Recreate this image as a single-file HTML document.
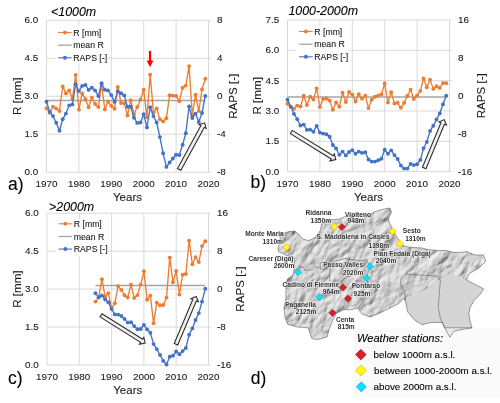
<!DOCTYPE html>
<html><head><meta charset="utf-8"><style>
html,body{margin:0;padding:0;background:#fff;}
svg{display:block;font-family:"Liberation Sans",sans-serif;will-change:transform;opacity:0.999;}
</style></head><body>
<svg width="500" height="403" viewBox="0 0 500 403">
<rect width="500" height="403" fill="#fff"/>
<rect x="354" y="329" width="146" height="69" fill="#FAFAFA"/>
<defs>
<filter id="relief" x="-400" y="-400" width="1200" height="1200" filterUnits="userSpaceOnUse">
<feTurbulence type="turbulence" baseFrequency="0.04 0.07" numOctaves="5" seed="11" result="n1"/>
<feTurbulence type="fractalNoise" baseFrequency="0.15 0.22" numOctaves="3" seed="4" result="n2"/>
<feComposite in="n1" in2="n2" operator="arithmetic" k1="0" k2="0.7" k3="0.3" k4="0" result="n"/>
<feDiffuseLighting in="n" surfaceScale="2.6" lighting-color="#ffffff" diffuseConstant="1" result="l">
<feDistantLight azimuth="280" elevation="45"/>
</feDiffuseLighting>
<feComponentTransfer><feFuncR type="linear" slope="1" intercept="-0.08"/><feFuncG type="linear" slope="1" intercept="-0.08"/><feFuncB type="linear" slope="1" intercept="-0.08"/></feComponentTransfer>
</filter>
<clipPath id="mapclip"><polygon points="278.7,236 283,233.5 289,231.5 294.8,231 299,234.5 303.2,239 308,240.5 311.6,239.5 317.2,235.5 320.5,230 321.5,224 326,221 330,220 336,219.5 340,219 346,216 352,215 358,214 364,215 370,215 374,212 379,210.5 384,209 390,208 391.5,212 388.5,218 389,222 391,226 394.8,234 399.6,240.8 402.8,245.6 408,247 414,247.5 422,248 428.4,249.6 438,250.5 446,250.5 454,252.5 462,252.2 467,251.5 474.4,254.9 483.6,255 485.7,261.3 479.4,267.7 468.8,274 466.7,280.3 475.2,284.5 483.6,288.8 480.4,294 474.1,300.4 469.9,307.7 468.8,314.1 469.9,320.4 472,327.8 464.6,329 454,331 449.9,337.3 444.6,327.8 442.5,322.5 430.9,322.5 422.4,324.6 415,320.4 407.7,312 405.5,301.4 404,298 398,304 388,309 380,313 370,317 362,314 357.7,308 350.5,309.8 343.3,309.8 336.2,313.4 332.6,320.6 329,329.6 327.2,336.8 318.2,339.5 311.9,338.6 310,333.2 308.3,327.8 296.6,326.9 287.6,324.2 284.9,317 284,308 285.8,299 286,290 286.4,282.4 287.6,278.8 292.4,275.8 294,271 294.2,262 294,258 285.2,255 282.8,253.4 278.8,251.8 278,248.6 279.2,243.8 280.4,237.4"/></clipPath>
</defs>
<g clip-path="url(#mapclip)"><g transform="translate(380,280) rotate(-55)"><rect x="-160" y="-160" width="320" height="320" filter="url(#relief)"/></g></g>
<polygon points="407.7,299.3 416,294 426.6,288.8 439.3,280.3 445.6,276.1 452,274 458.3,276.1 466.7,280.3 475.2,284.5 483.6,288.8 480.4,294 474.1,300.4 469.9,307.7 468.8,314.1 469.9,320.4 472,327.8 444.6,327.8 442.5,322.5 430.9,322.5 422.4,324.6 415,320.4 407.7,312" fill="#D5D5D5"/>
<polygon points="444.6,327.8 472,327.8 464.6,329 454,331 449.9,337.3" fill="#EBEBEB"/>
<polygon points="278.7,236 283,233.5 289,231.5 294.8,231 299,234.5 303.2,239 308,240.5 311.6,239.5 317.2,235.5 320.5,230 321.5,224 326,221 330,220 336,219.5 340,219 346,216 352,215 358,214 364,215 370,215 374,212 379,210.5 384,209 390,208 391.5,212 388.5,218 389,222 391,226 394.8,234 399.6,240.8 402.8,245.6 408,247 414,247.5 422,248 428.4,249.6 438,250.5 446,250.5 454,252.5 462,252.2 467,251.5 474.4,254.9 483.6,255 485.7,261.3 479.4,267.7 468.8,274 466.7,280.3 475.2,284.5 483.6,288.8 480.4,294 474.1,300.4 469.9,307.7 468.8,314.1 469.9,320.4 472,327.8 464.6,329 454,331 449.9,337.3 444.6,327.8 442.5,322.5 430.9,322.5 422.4,324.6 415,320.4 407.7,312 405.5,301.4 404,298 398,304 388,309 380,313 370,317 362,314 357.7,308 350.5,309.8 343.3,309.8 336.2,313.4 332.6,320.6 329,329.6 327.2,336.8 318.2,339.5 311.9,338.6 310,333.2 308.3,327.8 296.6,326.9 287.6,324.2 284.9,317 284,308 285.8,299 286,290 286.4,282.4 287.6,278.8 292.4,275.8 294,271 294.2,262 294,258 285.2,255 282.8,253.4 278.8,251.8 278,248.6 279.2,243.8 280.4,237.4" fill="none" stroke="#555" stroke-width="0.55"/>
<polyline points="418.2,250 418.2,263.4 410.8,268.7 405.5,274 401.3,278.2 400.3,284.5 404.5,290.9 405.5,301.4" fill="none" stroke="#555" stroke-width="0.55"/>
<polyline points="405.5,274 420.3,275 437.2,276.1 440.4,280.3 439.3,293 438.2,307.7 440.4,318.3 444.6,327.8" fill="none" stroke="#555" stroke-width="0.55"/>
<polyline points="444.6,327.8 472,327.8" fill="none" stroke="#555" stroke-width="0.55"/>
<polyline points="293.6,271 300.2,266.8 303.2,267.4 305,270.4 312.8,269.8 315.2,266.8 318.8,267.4 320.6,269.2 320,263.2 323,262 329.8,262.5 345,258.5 361.2,261 366.8,259.6 369.6,268 366.8,276.4 368,284 378,290 368,298 360,305 358,309" fill="none" stroke="#555" stroke-width="0.55"/>
<polyline points="330.2,268 329.6,281" fill="none" stroke="#555" stroke-width="0.55"/>
<polyline points="341,281.6 347,276.6 351.5,276" fill="none" stroke="#555" stroke-width="0.55"/>
<g font-size="6.6" font-weight="bold" fill="#333" text-anchor="middle" stroke="#fff" stroke-width="1.4" stroke-opacity="0.6" paint-order="stroke">
<text x="318.4" y="215.4">Ridanna</text>
<text x="320.8" y="222.9">1350m</text>
<text x="358" y="216.5">Vipiteno</text>
<text x="356" y="223.4">948m</text>
<text x="353" y="239.4">S. Maddalena in Casies</text>
<text x="378.8" y="247.8">1398m</text>
<text x="411.8" y="232.6">Sesto</text>
<text x="415.4" y="240.6">1310m</text>
<text x="402.2" y="256">Pian Fedaia (Diga)</text>
<text x="386" y="263.4">2040m</text>
<text x="264.5" y="236.2">Monte Maria</text>
<text x="272.7" y="243.9">1310m</text>
<text x="271" y="261.4">Careser (Diga)</text>
<text x="284" y="267.7">2600m</text>
<text x="343.2" y="267.4">Passo Valles</text>
<text x="353" y="275.4">2020m</text>
<text x="311" y="287.2">Cadino di Fiemme</text>
<text x="331.2" y="294.3">964m</text>
<text x="366" y="288.2">Pontarso</text>
<text x="362" y="295.9">925m</text>
<text x="300.6" y="306.6">Paganella</text>
<text x="306" y="314">2125m</text>
<text x="345.1" y="322">Centa</text>
<text x="346.3" y="329.4">815m</text>
</g>
<polygon points="334.4,223 338,226.6 334.4,230.2 330.8,226.6" fill="#FFFF00" stroke="#F0A000" stroke-width="0.6"/>
<polygon points="341.9,223.4 345.5,227 341.9,230.6 338.3,227" fill="#D7202A" stroke="#A01018" stroke-width="0.6"/>
<polygon points="392.8,227.7 396.4,231.3 392.8,234.9 389.2,231.3" fill="#FFFF00" stroke="#F0A000" stroke-width="0.6"/>
<polygon points="399.7,239.9 403.3,243.5 399.7,247.1 396.1,243.5" fill="#FFFF00" stroke="#F0A000" stroke-width="0.6"/>
<polygon points="286.7,243.4 290.3,247 286.7,250.6 283.1,247" fill="#FFFF00" stroke="#F0A000" stroke-width="0.6"/>
<polygon points="298,268.7 301.6,272.3 298,275.9 294.4,272.3" fill="#00E5FF" stroke="#3399CC" stroke-width="0.6"/>
<polygon points="369.9,263 373.5,266.6 369.9,270.2 366.3,266.6" fill="#00E5FF" stroke="#3399CC" stroke-width="0.6"/>
<polygon points="366.7,274.5 370.3,278.1 366.7,281.7 363.1,278.1" fill="#00E5FF" stroke="#3399CC" stroke-width="0.6"/>
<polygon points="342.9,283.8 346.5,287.4 342.9,291 339.3,287.4" fill="#D7202A" stroke="#A01018" stroke-width="0.6"/>
<polygon points="348,295 351.6,298.6 348,302.2 344.4,298.6" fill="#D7202A" stroke="#A01018" stroke-width="0.6"/>
<polygon points="319.6,293.5 323.2,297.1 319.6,300.7 316,297.1" fill="#00E5FF" stroke="#3399CC" stroke-width="0.6"/>
<polygon points="332.5,309.2 336.1,312.8 332.5,316.4 328.9,312.8" fill="#D7202A" stroke="#A01018" stroke-width="0.6"/>
<text x="357" y="341.6" font-size="11.1" text-anchor="start" fill="#000" stroke="#000" stroke-width="0.1" font-style="italic">Weather stations:</text>
<polygon points="360.9,349.3 366.2,354.6 360.9,359.9 355.6,354.6" fill="#D7202A" stroke="#A01018" stroke-width="0.6"/>
<polygon points="361,365.1 366.4,370.5 361,375.9 355.6,370.5" fill="#FFFF00" stroke="#F0A000" stroke-width="0.6"/>
<polygon points="361.3,381.7 366.4,386.8 361.3,391.9 356.2,386.8" fill="#00E5FF" stroke="#3399CC" stroke-width="0.6"/>
<text x="373.6" y="358.2" font-size="9.8" text-anchor="start" fill="#000" stroke="#000" stroke-width="0.1">below 1000m a.s.l.</text>
<text x="374" y="374" font-size="9.8" text-anchor="start" fill="#000" stroke="#000" stroke-width="0.1">between 1000-2000m a.s.l.</text>
<text x="373.6" y="390.3" font-size="9.8" text-anchor="start" fill="#000" stroke="#000" stroke-width="0.1">above 2000m a.s.l.</text>
<text x="250.8" y="384.4" font-size="17.5" text-anchor="start" fill="#000" stroke="#000" stroke-width="0.1">d)</text>
<g stroke="#D9D9D9" stroke-width="1"><line x1="46.5" y1="20.3" x2="46.5" y2="172.2"/><line x1="78.9" y1="20.3" x2="78.9" y2="172.2"/><line x1="111.3" y1="20.3" x2="111.3" y2="172.2"/><line x1="143.7" y1="20.3" x2="143.7" y2="172.2"/><line x1="176.1" y1="20.3" x2="176.1" y2="172.2"/><line x1="208.5" y1="20.3" x2="208.5" y2="172.2"/><line x1="46.5" y1="20.3" x2="211" y2="20.3"/><line x1="46.5" y1="58.27" x2="211" y2="58.27"/><line x1="46.5" y1="96.25" x2="211" y2="96.25"/><line x1="46.5" y1="134.22" x2="211" y2="134.22"/><line x1="46.5" y1="172.2" x2="211" y2="172.2"/></g>
<text x="38.2" y="23.2" font-size="9.9" text-anchor="end" fill="#1a1a1a" stroke="#1a1a1a" stroke-width="0.1">6.0</text>
<text x="38.2" y="61.17" font-size="9.9" text-anchor="end" fill="#1a1a1a" stroke="#1a1a1a" stroke-width="0.1">4.5</text>
<text x="38.2" y="99.15" font-size="9.9" text-anchor="end" fill="#1a1a1a" stroke="#1a1a1a" stroke-width="0.1">3.0</text>
<text x="38.2" y="137.12" font-size="9.9" text-anchor="end" fill="#1a1a1a" stroke="#1a1a1a" stroke-width="0.1">1.5</text>
<text x="38.2" y="175.1" font-size="9.9" text-anchor="end" fill="#1a1a1a" stroke="#1a1a1a" stroke-width="0.1">0.0</text>
<text x="216.9" y="23.2" font-size="9.9" text-anchor="start" fill="#1a1a1a" stroke="#1a1a1a" stroke-width="0.1">8</text>
<text x="216.9" y="61.17" font-size="9.9" text-anchor="start" fill="#1a1a1a" stroke="#1a1a1a" stroke-width="0.1">4</text>
<text x="216.9" y="99.15" font-size="9.9" text-anchor="start" fill="#1a1a1a" stroke="#1a1a1a" stroke-width="0.1">0</text>
<text x="216.9" y="137.12" font-size="9.9" text-anchor="start" fill="#1a1a1a" stroke="#1a1a1a" stroke-width="0.1">-4</text>
<text x="216.9" y="175.1" font-size="9.9" text-anchor="start" fill="#1a1a1a" stroke="#1a1a1a" stroke-width="0.1">-8</text>
<text x="46.5" y="187.2" font-size="9.9" text-anchor="middle" fill="#1a1a1a" stroke="#1a1a1a" stroke-width="0.1">1970</text>
<text x="78.9" y="187.2" font-size="9.9" text-anchor="middle" fill="#1a1a1a" stroke="#1a1a1a" stroke-width="0.1">1980</text>
<text x="111.3" y="187.2" font-size="9.9" text-anchor="middle" fill="#1a1a1a" stroke="#1a1a1a" stroke-width="0.1">1990</text>
<text x="143.7" y="187.2" font-size="9.9" text-anchor="middle" fill="#1a1a1a" stroke="#1a1a1a" stroke-width="0.1">2000</text>
<text x="176.1" y="187.2" font-size="9.9" text-anchor="middle" fill="#1a1a1a" stroke="#1a1a1a" stroke-width="0.1">2010</text>
<text x="208.5" y="187.2" font-size="9.9" text-anchor="middle" fill="#1a1a1a" stroke="#1a1a1a" stroke-width="0.1">2020</text>
<text x="127.5" y="201.1" font-size="11.5" text-anchor="middle" fill="#1a1a1a" stroke="#1a1a1a" stroke-width="0.1">Years</text>
<text transform="translate(20.6,96.25) rotate(-90)" font-size="11.6" text-anchor="middle" fill="#1a1a1a" stroke="#1a1a1a" stroke-width="0.1">R [mm]</text>
<text transform="translate(237,96.25) rotate(-90)" font-size="11.6" text-anchor="middle" fill="#1a1a1a" stroke="#1a1a1a" stroke-width="0.1">RAPS [-]</text>
<text x="51" y="15.6" font-size="12.4" text-anchor="start" fill="#000" stroke="#000" stroke-width="0.1" font-style="italic">&lt;1000m</text>
<text x="8" y="190.3" font-size="17.5" text-anchor="start" fill="#000" stroke="#000" stroke-width="0.1">a)</text>
<rect x="55.5" y="26.3" width="52" height="37" fill="#fff"/>
<line x1="58.1" y1="32.5" x2="71.7" y2="32.5" stroke="#ED7D31" stroke-width="1.1"/>
<circle cx="64.9" cy="32.5" r="2" fill="#ED7D31"/>
<line x1="58.1" y1="45.2" x2="71.7" y2="45.2" stroke="#A5A5A5" stroke-width="1.3"/>
<line x1="58.1" y1="57.8" x2="71.7" y2="57.8" stroke="#4472C4" stroke-width="1.1"/>
<circle cx="64.9" cy="57.8" r="2" fill="#4472C4"/>
<text x="73.3" y="35.5" font-size="8.7" text-anchor="start" fill="#1a1a1a" stroke="#1a1a1a" stroke-width="0.1">R [mm]</text>
<text x="73.3" y="48.2" font-size="8.7" text-anchor="start" fill="#1a1a1a" stroke="#1a1a1a" stroke-width="0.1">mean R</text>
<text x="73.3" y="60.8" font-size="8.7" text-anchor="start" fill="#1a1a1a" stroke="#1a1a1a" stroke-width="0.1">RAPS [-]</text>
<line x1="46.5" y1="100.5" x2="205.26" y2="100.5" stroke="#A5A5A5" stroke-width="1.6"/>
<polyline fill="none" stroke="#ED7D31" stroke-width="1.35" stroke-linejoin="round" points="46.5,108.2 49.74,112.8 52.98,106.6 56.22,108.5 59.46,111 62.7,86.4 65.94,93.4 69.18,90.5 72.42,98.6 75.66,74.9 78.9,109.7 82.14,93.4 85.38,99.2 88.62,107.3 91.86,97.6 95.1,104 98.34,107 101.58,84 104.82,109.5 108.06,101.7 111.3,105.9 114.54,108.7 117.78,87 121.02,103 124.26,103.3 127.5,115.5 130.74,100.2 133.98,114.2 137.22,107 140.46,99.8 143.7,89.8 146.94,117.3 150.18,74.7 153.42,112.4 156.66,108.4 159.9,119.2 163.14,121.4 166.38,118.3 169.62,95.3 172.86,95.7 176.1,95.9 179.34,101.2 182.58,87.8 185.82,85.6 189.06,66.1 192.3,115.2 195.54,94.7 198.78,111.1 202.02,89.5 205.26,78.8"/>
<circle cx="46.5" cy="108.2" r="1.95" fill="#ED7D31"/><circle cx="49.74" cy="112.8" r="1.95" fill="#ED7D31"/><circle cx="52.98" cy="106.6" r="1.95" fill="#ED7D31"/><circle cx="56.22" cy="108.5" r="1.95" fill="#ED7D31"/><circle cx="59.46" cy="111" r="1.95" fill="#ED7D31"/><circle cx="62.7" cy="86.4" r="1.95" fill="#ED7D31"/><circle cx="65.94" cy="93.4" r="1.95" fill="#ED7D31"/><circle cx="69.18" cy="90.5" r="1.95" fill="#ED7D31"/><circle cx="72.42" cy="98.6" r="1.95" fill="#ED7D31"/><circle cx="75.66" cy="74.9" r="1.95" fill="#ED7D31"/><circle cx="78.9" cy="109.7" r="1.95" fill="#ED7D31"/><circle cx="82.14" cy="93.4" r="1.95" fill="#ED7D31"/><circle cx="85.38" cy="99.2" r="1.95" fill="#ED7D31"/><circle cx="88.62" cy="107.3" r="1.95" fill="#ED7D31"/><circle cx="91.86" cy="97.6" r="1.95" fill="#ED7D31"/><circle cx="95.1" cy="104" r="1.95" fill="#ED7D31"/><circle cx="98.34" cy="107" r="1.95" fill="#ED7D31"/><circle cx="101.58" cy="84" r="1.95" fill="#ED7D31"/><circle cx="104.82" cy="109.5" r="1.95" fill="#ED7D31"/><circle cx="108.06" cy="101.7" r="1.95" fill="#ED7D31"/><circle cx="111.3" cy="105.9" r="1.95" fill="#ED7D31"/><circle cx="114.54" cy="108.7" r="1.95" fill="#ED7D31"/><circle cx="117.78" cy="87" r="1.95" fill="#ED7D31"/><circle cx="121.02" cy="103" r="1.95" fill="#ED7D31"/><circle cx="124.26" cy="103.3" r="1.95" fill="#ED7D31"/><circle cx="127.5" cy="115.5" r="1.95" fill="#ED7D31"/><circle cx="130.74" cy="100.2" r="1.95" fill="#ED7D31"/><circle cx="133.98" cy="114.2" r="1.95" fill="#ED7D31"/><circle cx="137.22" cy="107" r="1.95" fill="#ED7D31"/><circle cx="140.46" cy="99.8" r="1.95" fill="#ED7D31"/><circle cx="143.7" cy="89.8" r="1.95" fill="#ED7D31"/><circle cx="146.94" cy="117.3" r="1.95" fill="#ED7D31"/><circle cx="150.18" cy="74.7" r="1.95" fill="#ED7D31"/><circle cx="153.42" cy="112.4" r="1.95" fill="#ED7D31"/><circle cx="156.66" cy="108.4" r="1.95" fill="#ED7D31"/><circle cx="159.9" cy="119.2" r="1.95" fill="#ED7D31"/><circle cx="163.14" cy="121.4" r="1.95" fill="#ED7D31"/><circle cx="166.38" cy="118.3" r="1.95" fill="#ED7D31"/><circle cx="169.62" cy="95.3" r="1.95" fill="#ED7D31"/><circle cx="172.86" cy="95.7" r="1.95" fill="#ED7D31"/><circle cx="176.1" cy="95.9" r="1.95" fill="#ED7D31"/><circle cx="179.34" cy="101.2" r="1.95" fill="#ED7D31"/><circle cx="182.58" cy="87.8" r="1.95" fill="#ED7D31"/><circle cx="185.82" cy="85.6" r="1.95" fill="#ED7D31"/><circle cx="189.06" cy="66.1" r="1.95" fill="#ED7D31"/><circle cx="192.3" cy="115.2" r="1.95" fill="#ED7D31"/><circle cx="195.54" cy="94.7" r="1.95" fill="#ED7D31"/><circle cx="198.78" cy="111.1" r="1.95" fill="#ED7D31"/><circle cx="202.02" cy="89.5" r="1.95" fill="#ED7D31"/><circle cx="205.26" cy="78.8" r="1.95" fill="#ED7D31"/>
<polyline fill="none" stroke="#4472C4" stroke-width="1.35" stroke-linejoin="round" points="46.5,101.7 49.74,111.8 52.98,116.1 56.22,122.7 59.46,130.8 62.7,119.2 65.94,113.6 69.18,105.4 72.42,104.4 75.66,84.3 78.9,91.1 82.14,85.9 85.38,84.9 88.62,89.9 91.86,87.7 95.1,90.4 98.34,96 101.58,83.3 104.82,89.8 108.06,90.4 111.3,95.1 114.54,101.9 117.78,91.3 121.02,93.3 124.26,95.4 127.5,106.8 130.74,106.8 133.98,117.7 137.22,122.9 140.46,122.5 143.7,114.2 146.94,127.5 150.18,107.3 153.42,116.1 156.66,122.5 159.9,137.1 163.14,153.3 166.38,166.9 169.62,162.5 172.86,158.5 176.1,154.8 179.34,155 182.58,144.8 185.82,133.2 189.06,106.5 192.3,118 195.54,113.6 198.78,122 202.02,113 205.26,96"/>
<circle cx="46.5" cy="101.7" r="1.95" fill="#4472C4"/><circle cx="49.74" cy="111.8" r="1.95" fill="#4472C4"/><circle cx="52.98" cy="116.1" r="1.95" fill="#4472C4"/><circle cx="56.22" cy="122.7" r="1.95" fill="#4472C4"/><circle cx="59.46" cy="130.8" r="1.95" fill="#4472C4"/><circle cx="62.7" cy="119.2" r="1.95" fill="#4472C4"/><circle cx="65.94" cy="113.6" r="1.95" fill="#4472C4"/><circle cx="69.18" cy="105.4" r="1.95" fill="#4472C4"/><circle cx="72.42" cy="104.4" r="1.95" fill="#4472C4"/><circle cx="75.66" cy="84.3" r="1.95" fill="#4472C4"/><circle cx="78.9" cy="91.1" r="1.95" fill="#4472C4"/><circle cx="82.14" cy="85.9" r="1.95" fill="#4472C4"/><circle cx="85.38" cy="84.9" r="1.95" fill="#4472C4"/><circle cx="88.62" cy="89.9" r="1.95" fill="#4472C4"/><circle cx="91.86" cy="87.7" r="1.95" fill="#4472C4"/><circle cx="95.1" cy="90.4" r="1.95" fill="#4472C4"/><circle cx="98.34" cy="96" r="1.95" fill="#4472C4"/><circle cx="101.58" cy="83.3" r="1.95" fill="#4472C4"/><circle cx="104.82" cy="89.8" r="1.95" fill="#4472C4"/><circle cx="108.06" cy="90.4" r="1.95" fill="#4472C4"/><circle cx="111.3" cy="95.1" r="1.95" fill="#4472C4"/><circle cx="114.54" cy="101.9" r="1.95" fill="#4472C4"/><circle cx="117.78" cy="91.3" r="1.95" fill="#4472C4"/><circle cx="121.02" cy="93.3" r="1.95" fill="#4472C4"/><circle cx="124.26" cy="95.4" r="1.95" fill="#4472C4"/><circle cx="127.5" cy="106.8" r="1.95" fill="#4472C4"/><circle cx="130.74" cy="106.8" r="1.95" fill="#4472C4"/><circle cx="133.98" cy="117.7" r="1.95" fill="#4472C4"/><circle cx="137.22" cy="122.9" r="1.95" fill="#4472C4"/><circle cx="140.46" cy="122.5" r="1.95" fill="#4472C4"/><circle cx="143.7" cy="114.2" r="1.95" fill="#4472C4"/><circle cx="146.94" cy="127.5" r="1.95" fill="#4472C4"/><circle cx="150.18" cy="107.3" r="1.95" fill="#4472C4"/><circle cx="153.42" cy="116.1" r="1.95" fill="#4472C4"/><circle cx="156.66" cy="122.5" r="1.95" fill="#4472C4"/><circle cx="159.9" cy="137.1" r="1.95" fill="#4472C4"/><circle cx="163.14" cy="153.3" r="1.95" fill="#4472C4"/><circle cx="166.38" cy="166.9" r="1.95" fill="#4472C4"/><circle cx="169.62" cy="162.5" r="1.95" fill="#4472C4"/><circle cx="172.86" cy="158.5" r="1.95" fill="#4472C4"/><circle cx="176.1" cy="154.8" r="1.95" fill="#4472C4"/><circle cx="179.34" cy="155" r="1.95" fill="#4472C4"/><circle cx="182.58" cy="144.8" r="1.95" fill="#4472C4"/><circle cx="185.82" cy="133.2" r="1.95" fill="#4472C4"/><circle cx="189.06" cy="106.5" r="1.95" fill="#4472C4"/><circle cx="192.3" cy="118" r="1.95" fill="#4472C4"/><circle cx="195.54" cy="113.6" r="1.95" fill="#4472C4"/><circle cx="198.78" cy="122" r="1.95" fill="#4472C4"/><circle cx="202.02" cy="113" r="1.95" fill="#4472C4"/><circle cx="205.26" cy="96" r="1.95" fill="#4472C4"/>
<polygon fill="#EFEFEF" stroke="#2a2a2a" stroke-width="1.05" stroke-linejoin="miter" points="180.87,170.31 204.26,127.4 206.19,128.45 204.6,122.8 198.99,124.53 200.92,125.58 177.53,168.49"/>
<g stroke="#D9D9D9" stroke-width="1"><line x1="287.5" y1="20" x2="287.5" y2="171.6"/><line x1="319.9" y1="20" x2="319.9" y2="171.6"/><line x1="352.3" y1="20" x2="352.3" y2="171.6"/><line x1="384.7" y1="20" x2="384.7" y2="171.6"/><line x1="417.1" y1="20" x2="417.1" y2="171.6"/><line x1="449.5" y1="20" x2="449.5" y2="171.6"/><line x1="287.5" y1="20" x2="452" y2="20"/><line x1="287.5" y1="50.32" x2="452" y2="50.32"/><line x1="287.5" y1="80.64" x2="452" y2="80.64"/><line x1="287.5" y1="110.96" x2="452" y2="110.96"/><line x1="287.5" y1="141.28" x2="452" y2="141.28"/><line x1="287.5" y1="171.6" x2="452" y2="171.6"/></g>
<text x="279.2" y="22.9" font-size="9.9" text-anchor="end" fill="#1a1a1a" stroke="#1a1a1a" stroke-width="0.1">7.5</text>
<text x="279.2" y="53.22" font-size="9.9" text-anchor="end" fill="#1a1a1a" stroke="#1a1a1a" stroke-width="0.1">6.0</text>
<text x="279.2" y="83.54" font-size="9.9" text-anchor="end" fill="#1a1a1a" stroke="#1a1a1a" stroke-width="0.1">4.5</text>
<text x="279.2" y="113.86" font-size="9.9" text-anchor="end" fill="#1a1a1a" stroke="#1a1a1a" stroke-width="0.1">3.0</text>
<text x="279.2" y="144.18" font-size="9.9" text-anchor="end" fill="#1a1a1a" stroke="#1a1a1a" stroke-width="0.1">1.5</text>
<text x="279.2" y="174.5" font-size="9.9" text-anchor="end" fill="#1a1a1a" stroke="#1a1a1a" stroke-width="0.1">0.0</text>
<text x="457.9" y="22.9" font-size="9.9" text-anchor="start" fill="#1a1a1a" stroke="#1a1a1a" stroke-width="0.1">16</text>
<text x="457.9" y="60.8" font-size="9.9" text-anchor="start" fill="#1a1a1a" stroke="#1a1a1a" stroke-width="0.1">8</text>
<text x="457.9" y="98.7" font-size="9.9" text-anchor="start" fill="#1a1a1a" stroke="#1a1a1a" stroke-width="0.1">0</text>
<text x="457.9" y="136.6" font-size="9.9" text-anchor="start" fill="#1a1a1a" stroke="#1a1a1a" stroke-width="0.1">-8</text>
<text x="457.9" y="174.5" font-size="9.9" text-anchor="start" fill="#1a1a1a" stroke="#1a1a1a" stroke-width="0.1">-16</text>
<text x="287.5" y="186.6" font-size="9.9" text-anchor="middle" fill="#1a1a1a" stroke="#1a1a1a" stroke-width="0.1">1970</text>
<text x="319.9" y="186.6" font-size="9.9" text-anchor="middle" fill="#1a1a1a" stroke="#1a1a1a" stroke-width="0.1">1980</text>
<text x="352.3" y="186.6" font-size="9.9" text-anchor="middle" fill="#1a1a1a" stroke="#1a1a1a" stroke-width="0.1">1990</text>
<text x="384.7" y="186.6" font-size="9.9" text-anchor="middle" fill="#1a1a1a" stroke="#1a1a1a" stroke-width="0.1">2000</text>
<text x="417.1" y="186.6" font-size="9.9" text-anchor="middle" fill="#1a1a1a" stroke="#1a1a1a" stroke-width="0.1">2010</text>
<text x="449.5" y="186.6" font-size="9.9" text-anchor="middle" fill="#1a1a1a" stroke="#1a1a1a" stroke-width="0.1">2020</text>
<text x="368.5" y="200.5" font-size="11.5" text-anchor="middle" fill="#1a1a1a" stroke="#1a1a1a" stroke-width="0.1">Years</text>
<text transform="translate(260.7,95.8) rotate(-90)" font-size="11.6" text-anchor="middle" fill="#1a1a1a" stroke="#1a1a1a" stroke-width="0.1">R [mm]</text>
<text transform="translate(484.7,95.8) rotate(-90)" font-size="11.6" text-anchor="middle" fill="#1a1a1a" stroke="#1a1a1a" stroke-width="0.1">RAPS [-]</text>
<text x="288.4" y="15" font-size="12.4" text-anchor="start" fill="#000" stroke="#000" stroke-width="0.1" font-style="italic">1000-2000m</text>
<text x="250.5" y="187.6" font-size="17.5" text-anchor="start" fill="#000" stroke="#000" stroke-width="0.1">b)</text>
<rect x="296.5" y="26" width="52" height="37" fill="#fff"/>
<line x1="299.1" y1="31.5" x2="312.7" y2="31.5" stroke="#ED7D31" stroke-width="1.1"/>
<circle cx="305.9" cy="31.5" r="2" fill="#ED7D31"/>
<line x1="299.1" y1="44.2" x2="312.7" y2="44.2" stroke="#A5A5A5" stroke-width="1.3"/>
<line x1="299.1" y1="56.8" x2="312.7" y2="56.8" stroke="#4472C4" stroke-width="1.1"/>
<circle cx="305.9" cy="56.8" r="2" fill="#4472C4"/>
<text x="314.3" y="34.5" font-size="8.7" text-anchor="start" fill="#1a1a1a" stroke="#1a1a1a" stroke-width="0.1">R [mm]</text>
<text x="314.3" y="47.2" font-size="8.7" text-anchor="start" fill="#1a1a1a" stroke="#1a1a1a" stroke-width="0.1">mean R</text>
<text x="314.3" y="59.8" font-size="8.7" text-anchor="start" fill="#1a1a1a" stroke="#1a1a1a" stroke-width="0.1">RAPS [-]</text>
<line x1="287.5" y1="97" x2="446.26" y2="97" stroke="#A5A5A5" stroke-width="1.6"/>
<polyline fill="none" stroke="#ED7D31" stroke-width="1.35" stroke-linejoin="round" points="287.5,103.7 290.74,107 293.98,108.7 297.22,105.6 300.46,106.6 303.7,95.7 306.94,105.1 310.18,96.7 313.42,99.5 316.66,88.4 319.9,107 323.14,98.9 326.38,98.5 329.62,100.4 332.86,109.7 336.1,102.5 339.34,106.8 342.58,92.6 345.82,102 349.06,92 352.3,94.6 355.54,101.6 358.78,94.2 362.02,98.8 365.26,95.7 368.5,108.1 371.74,99.8 374.98,96.7 378.22,95.4 381.46,94.2 384.7,83.4 387.94,102.6 391.18,92.3 394.42,103.4 397.66,102.8 400.9,107.8 404.14,102.8 407.38,95.7 410.62,89.8 413.86,99.1 417.1,95.4 420.34,91 423.58,78.4 426.82,87.3 430.06,79.6 433.3,88.9 436.54,86.3 439.78,87.9 443.02,83 446.26,83.3"/>
<circle cx="287.5" cy="103.7" r="1.95" fill="#ED7D31"/><circle cx="290.74" cy="107" r="1.95" fill="#ED7D31"/><circle cx="293.98" cy="108.7" r="1.95" fill="#ED7D31"/><circle cx="297.22" cy="105.6" r="1.95" fill="#ED7D31"/><circle cx="300.46" cy="106.6" r="1.95" fill="#ED7D31"/><circle cx="303.7" cy="95.7" r="1.95" fill="#ED7D31"/><circle cx="306.94" cy="105.1" r="1.95" fill="#ED7D31"/><circle cx="310.18" cy="96.7" r="1.95" fill="#ED7D31"/><circle cx="313.42" cy="99.5" r="1.95" fill="#ED7D31"/><circle cx="316.66" cy="88.4" r="1.95" fill="#ED7D31"/><circle cx="319.9" cy="107" r="1.95" fill="#ED7D31"/><circle cx="323.14" cy="98.9" r="1.95" fill="#ED7D31"/><circle cx="326.38" cy="98.5" r="1.95" fill="#ED7D31"/><circle cx="329.62" cy="100.4" r="1.95" fill="#ED7D31"/><circle cx="332.86" cy="109.7" r="1.95" fill="#ED7D31"/><circle cx="336.1" cy="102.5" r="1.95" fill="#ED7D31"/><circle cx="339.34" cy="106.8" r="1.95" fill="#ED7D31"/><circle cx="342.58" cy="92.6" r="1.95" fill="#ED7D31"/><circle cx="345.82" cy="102" r="1.95" fill="#ED7D31"/><circle cx="349.06" cy="92" r="1.95" fill="#ED7D31"/><circle cx="352.3" cy="94.6" r="1.95" fill="#ED7D31"/><circle cx="355.54" cy="101.6" r="1.95" fill="#ED7D31"/><circle cx="358.78" cy="94.2" r="1.95" fill="#ED7D31"/><circle cx="362.02" cy="98.8" r="1.95" fill="#ED7D31"/><circle cx="365.26" cy="95.7" r="1.95" fill="#ED7D31"/><circle cx="368.5" cy="108.1" r="1.95" fill="#ED7D31"/><circle cx="371.74" cy="99.8" r="1.95" fill="#ED7D31"/><circle cx="374.98" cy="96.7" r="1.95" fill="#ED7D31"/><circle cx="378.22" cy="95.4" r="1.95" fill="#ED7D31"/><circle cx="381.46" cy="94.2" r="1.95" fill="#ED7D31"/><circle cx="384.7" cy="83.4" r="1.95" fill="#ED7D31"/><circle cx="387.94" cy="102.6" r="1.95" fill="#ED7D31"/><circle cx="391.18" cy="92.3" r="1.95" fill="#ED7D31"/><circle cx="394.42" cy="103.4" r="1.95" fill="#ED7D31"/><circle cx="397.66" cy="102.8" r="1.95" fill="#ED7D31"/><circle cx="400.9" cy="107.8" r="1.95" fill="#ED7D31"/><circle cx="404.14" cy="102.8" r="1.95" fill="#ED7D31"/><circle cx="407.38" cy="95.7" r="1.95" fill="#ED7D31"/><circle cx="410.62" cy="89.8" r="1.95" fill="#ED7D31"/><circle cx="413.86" cy="99.1" r="1.95" fill="#ED7D31"/><circle cx="417.1" cy="95.4" r="1.95" fill="#ED7D31"/><circle cx="420.34" cy="91" r="1.95" fill="#ED7D31"/><circle cx="423.58" cy="78.4" r="1.95" fill="#ED7D31"/><circle cx="426.82" cy="87.3" r="1.95" fill="#ED7D31"/><circle cx="430.06" cy="79.6" r="1.95" fill="#ED7D31"/><circle cx="433.3" cy="88.9" r="1.95" fill="#ED7D31"/><circle cx="436.54" cy="86.3" r="1.95" fill="#ED7D31"/><circle cx="439.78" cy="87.9" r="1.95" fill="#ED7D31"/><circle cx="443.02" cy="83" r="1.95" fill="#ED7D31"/><circle cx="446.26" cy="83.3" r="1.95" fill="#ED7D31"/>
<polyline fill="none" stroke="#4472C4" stroke-width="1.35" stroke-linejoin="round" points="287.5,99.8 290.74,106.6 293.98,113.9 297.22,119.2 300.46,125.5 303.7,124.6 306.94,129.9 310.18,129.6 313.42,131.7 316.66,125.9 319.9,132.6 323.14,133.6 326.38,134.2 329.62,136.7 332.86,145 336.1,148.5 339.34,154.8 342.58,151.6 345.82,155.4 349.06,152 352.3,150.1 355.54,153.7 358.78,151.6 362.02,152.9 365.26,152.3 368.5,159.5 371.74,161.6 374.98,161.6 378.22,160.3 381.46,158.7 384.7,149.8 387.94,153.7 391.18,150.4 394.42,155.1 397.66,159 400.9,165.6 404.14,168.6 407.38,168.6 410.62,163.9 413.86,165.1 417.1,164.2 420.34,159.9 423.58,148.3 426.82,142 430.06,130.9 433.3,125.7 436.54,119.4 439.78,113.5 443.02,104.3 446.26,95.7"/>
<circle cx="287.5" cy="99.8" r="1.95" fill="#4472C4"/><circle cx="290.74" cy="106.6" r="1.95" fill="#4472C4"/><circle cx="293.98" cy="113.9" r="1.95" fill="#4472C4"/><circle cx="297.22" cy="119.2" r="1.95" fill="#4472C4"/><circle cx="300.46" cy="125.5" r="1.95" fill="#4472C4"/><circle cx="303.7" cy="124.6" r="1.95" fill="#4472C4"/><circle cx="306.94" cy="129.9" r="1.95" fill="#4472C4"/><circle cx="310.18" cy="129.6" r="1.95" fill="#4472C4"/><circle cx="313.42" cy="131.7" r="1.95" fill="#4472C4"/><circle cx="316.66" cy="125.9" r="1.95" fill="#4472C4"/><circle cx="319.9" cy="132.6" r="1.95" fill="#4472C4"/><circle cx="323.14" cy="133.6" r="1.95" fill="#4472C4"/><circle cx="326.38" cy="134.2" r="1.95" fill="#4472C4"/><circle cx="329.62" cy="136.7" r="1.95" fill="#4472C4"/><circle cx="332.86" cy="145" r="1.95" fill="#4472C4"/><circle cx="336.1" cy="148.5" r="1.95" fill="#4472C4"/><circle cx="339.34" cy="154.8" r="1.95" fill="#4472C4"/><circle cx="342.58" cy="151.6" r="1.95" fill="#4472C4"/><circle cx="345.82" cy="155.4" r="1.95" fill="#4472C4"/><circle cx="349.06" cy="152" r="1.95" fill="#4472C4"/><circle cx="352.3" cy="150.1" r="1.95" fill="#4472C4"/><circle cx="355.54" cy="153.7" r="1.95" fill="#4472C4"/><circle cx="358.78" cy="151.6" r="1.95" fill="#4472C4"/><circle cx="362.02" cy="152.9" r="1.95" fill="#4472C4"/><circle cx="365.26" cy="152.3" r="1.95" fill="#4472C4"/><circle cx="368.5" cy="159.5" r="1.95" fill="#4472C4"/><circle cx="371.74" cy="161.6" r="1.95" fill="#4472C4"/><circle cx="374.98" cy="161.6" r="1.95" fill="#4472C4"/><circle cx="378.22" cy="160.3" r="1.95" fill="#4472C4"/><circle cx="381.46" cy="158.7" r="1.95" fill="#4472C4"/><circle cx="384.7" cy="149.8" r="1.95" fill="#4472C4"/><circle cx="387.94" cy="153.7" r="1.95" fill="#4472C4"/><circle cx="391.18" cy="150.4" r="1.95" fill="#4472C4"/><circle cx="394.42" cy="155.1" r="1.95" fill="#4472C4"/><circle cx="397.66" cy="159" r="1.95" fill="#4472C4"/><circle cx="400.9" cy="165.6" r="1.95" fill="#4472C4"/><circle cx="404.14" cy="168.6" r="1.95" fill="#4472C4"/><circle cx="407.38" cy="168.6" r="1.95" fill="#4472C4"/><circle cx="410.62" cy="163.9" r="1.95" fill="#4472C4"/><circle cx="413.86" cy="165.1" r="1.95" fill="#4472C4"/><circle cx="417.1" cy="164.2" r="1.95" fill="#4472C4"/><circle cx="420.34" cy="159.9" r="1.95" fill="#4472C4"/><circle cx="423.58" cy="148.3" r="1.95" fill="#4472C4"/><circle cx="426.82" cy="142" r="1.95" fill="#4472C4"/><circle cx="430.06" cy="130.9" r="1.95" fill="#4472C4"/><circle cx="433.3" cy="125.7" r="1.95" fill="#4472C4"/><circle cx="436.54" cy="119.4" r="1.95" fill="#4472C4"/><circle cx="439.78" cy="113.5" r="1.95" fill="#4472C4"/><circle cx="443.02" cy="104.3" r="1.95" fill="#4472C4"/><circle cx="446.26" cy="95.7" r="1.95" fill="#4472C4"/>
<polygon fill="#EFEFEF" stroke="#2a2a2a" stroke-width="1.05" stroke-linejoin="miter" points="290.3,133.61 331.23,159 330.07,160.87 335.8,159.6 334.39,153.9 333.23,155.77 292.3,130.39"/>
<polygon fill="#EFEFEF" stroke="#2a2a2a" stroke-width="1.05" stroke-linejoin="miter" points="425.95,168.73 444.44,124.21 446.48,125.05 444.3,119.6 438.9,121.91 440.93,122.75 422.45,167.27"/>
<g stroke="#D9D9D9" stroke-width="1"><line x1="47" y1="213.2" x2="47" y2="365"/><line x1="79.3" y1="213.2" x2="79.3" y2="365"/><line x1="111.6" y1="213.2" x2="111.6" y2="365"/><line x1="143.9" y1="213.2" x2="143.9" y2="365"/><line x1="176.2" y1="213.2" x2="176.2" y2="365"/><line x1="208.5" y1="213.2" x2="208.5" y2="365"/><line x1="47" y1="213.2" x2="211" y2="213.2"/><line x1="47" y1="251.15" x2="211" y2="251.15"/><line x1="47" y1="289.1" x2="211" y2="289.1"/><line x1="47" y1="327.05" x2="211" y2="327.05"/><line x1="47" y1="365" x2="211" y2="365"/></g>
<text x="38.7" y="216.1" font-size="9.9" text-anchor="end" fill="#1a1a1a" stroke="#1a1a1a" stroke-width="0.1">6.0</text>
<text x="38.7" y="254.05" font-size="9.9" text-anchor="end" fill="#1a1a1a" stroke="#1a1a1a" stroke-width="0.1">4.5</text>
<text x="38.7" y="292" font-size="9.9" text-anchor="end" fill="#1a1a1a" stroke="#1a1a1a" stroke-width="0.1">3.0</text>
<text x="38.7" y="329.95" font-size="9.9" text-anchor="end" fill="#1a1a1a" stroke="#1a1a1a" stroke-width="0.1">1.5</text>
<text x="38.7" y="367.9" font-size="9.9" text-anchor="end" fill="#1a1a1a" stroke="#1a1a1a" stroke-width="0.1">0.0</text>
<text x="216.9" y="216.1" font-size="9.9" text-anchor="start" fill="#1a1a1a" stroke="#1a1a1a" stroke-width="0.1">16</text>
<text x="216.9" y="254.05" font-size="9.9" text-anchor="start" fill="#1a1a1a" stroke="#1a1a1a" stroke-width="0.1">8</text>
<text x="216.9" y="292" font-size="9.9" text-anchor="start" fill="#1a1a1a" stroke="#1a1a1a" stroke-width="0.1">0</text>
<text x="216.9" y="329.95" font-size="9.9" text-anchor="start" fill="#1a1a1a" stroke="#1a1a1a" stroke-width="0.1">-8</text>
<text x="216.9" y="367.9" font-size="9.9" text-anchor="start" fill="#1a1a1a" stroke="#1a1a1a" stroke-width="0.1">-16</text>
<text x="47" y="380" font-size="9.9" text-anchor="middle" fill="#1a1a1a" stroke="#1a1a1a" stroke-width="0.1">1970</text>
<text x="79.3" y="380" font-size="9.9" text-anchor="middle" fill="#1a1a1a" stroke="#1a1a1a" stroke-width="0.1">1980</text>
<text x="111.6" y="380" font-size="9.9" text-anchor="middle" fill="#1a1a1a" stroke="#1a1a1a" stroke-width="0.1">1990</text>
<text x="143.9" y="380" font-size="9.9" text-anchor="middle" fill="#1a1a1a" stroke="#1a1a1a" stroke-width="0.1">2000</text>
<text x="176.2" y="380" font-size="9.9" text-anchor="middle" fill="#1a1a1a" stroke="#1a1a1a" stroke-width="0.1">2010</text>
<text x="208.5" y="380" font-size="9.9" text-anchor="middle" fill="#1a1a1a" stroke="#1a1a1a" stroke-width="0.1">2020</text>
<text x="127.75" y="393.9" font-size="11.5" text-anchor="middle" fill="#1a1a1a" stroke="#1a1a1a" stroke-width="0.1">Years</text>
<text transform="translate(20.6,289.1) rotate(-90)" font-size="11.6" text-anchor="middle" fill="#1a1a1a" stroke="#1a1a1a" stroke-width="0.1">R [mm]</text>
<text transform="translate(244.3,289.1) rotate(-90)" font-size="11.6" text-anchor="middle" fill="#1a1a1a" stroke="#1a1a1a" stroke-width="0.1">RAPS [-]</text>
<text x="49" y="210.6" font-size="12.4" text-anchor="start" fill="#000" stroke="#000" stroke-width="0.1" font-style="italic">&gt;2000m</text>
<text x="8" y="384" font-size="17.5" text-anchor="start" fill="#000" stroke="#000" stroke-width="0.1">c)</text>
<rect x="56" y="219.2" width="52" height="37" fill="#fff"/>
<line x1="58.6" y1="223.8" x2="72.2" y2="223.8" stroke="#ED7D31" stroke-width="1.1"/>
<circle cx="65.4" cy="223.8" r="2" fill="#ED7D31"/>
<line x1="58.6" y1="236.5" x2="72.2" y2="236.5" stroke="#A5A5A5" stroke-width="1.3"/>
<line x1="58.6" y1="249.1" x2="72.2" y2="249.1" stroke="#4472C4" stroke-width="1.1"/>
<circle cx="65.4" cy="249.1" r="2" fill="#4472C4"/>
<text x="73.8" y="226.8" font-size="8.7" text-anchor="start" fill="#1a1a1a" stroke="#1a1a1a" stroke-width="0.1">R [mm]</text>
<text x="73.8" y="239.5" font-size="8.7" text-anchor="start" fill="#1a1a1a" stroke="#1a1a1a" stroke-width="0.1">mean R</text>
<text x="73.8" y="252.1" font-size="8.7" text-anchor="start" fill="#1a1a1a" stroke="#1a1a1a" stroke-width="0.1">RAPS [-]</text>
<line x1="95.45" y1="285.5" x2="205.27" y2="285.5" stroke="#A5A5A5" stroke-width="1.6"/>
<polyline fill="none" stroke="#ED7D31" stroke-width="1.35" stroke-linejoin="round" points="95.45,301.6 98.68,297.3 101.91,279.3 105.14,296.7 108.37,293.3 111.6,307.8 114.83,303.3 118.06,286.1 121.29,289.9 124.52,295.2 127.75,297.5 130.98,284.6 134.21,297.9 137.44,295.1 140.67,284.6 143.9,271.3 147.13,299.7 150.36,295.6 153.59,323.2 156.82,302.7 160.05,305.3 163.28,305 166.51,297.6 169.74,257.6 172.97,282.3 176.2,271 179.43,294.6 182.66,274.7 185.89,274 189.12,240.7 192.35,264.3 195.58,257.1 198.81,262 202.04,246.1 205.27,241.2"/>
<circle cx="95.45" cy="301.6" r="1.95" fill="#ED7D31"/><circle cx="98.68" cy="297.3" r="1.95" fill="#ED7D31"/><circle cx="101.91" cy="279.3" r="1.95" fill="#ED7D31"/><circle cx="105.14" cy="296.7" r="1.95" fill="#ED7D31"/><circle cx="108.37" cy="293.3" r="1.95" fill="#ED7D31"/><circle cx="111.6" cy="307.8" r="1.95" fill="#ED7D31"/><circle cx="114.83" cy="303.3" r="1.95" fill="#ED7D31"/><circle cx="118.06" cy="286.1" r="1.95" fill="#ED7D31"/><circle cx="121.29" cy="289.9" r="1.95" fill="#ED7D31"/><circle cx="124.52" cy="295.2" r="1.95" fill="#ED7D31"/><circle cx="127.75" cy="297.5" r="1.95" fill="#ED7D31"/><circle cx="130.98" cy="284.6" r="1.95" fill="#ED7D31"/><circle cx="134.21" cy="297.9" r="1.95" fill="#ED7D31"/><circle cx="137.44" cy="295.1" r="1.95" fill="#ED7D31"/><circle cx="140.67" cy="284.6" r="1.95" fill="#ED7D31"/><circle cx="143.9" cy="271.3" r="1.95" fill="#ED7D31"/><circle cx="147.13" cy="299.7" r="1.95" fill="#ED7D31"/><circle cx="150.36" cy="295.6" r="1.95" fill="#ED7D31"/><circle cx="153.59" cy="323.2" r="1.95" fill="#ED7D31"/><circle cx="156.82" cy="302.7" r="1.95" fill="#ED7D31"/><circle cx="160.05" cy="305.3" r="1.95" fill="#ED7D31"/><circle cx="163.28" cy="305" r="1.95" fill="#ED7D31"/><circle cx="166.51" cy="297.6" r="1.95" fill="#ED7D31"/><circle cx="169.74" cy="257.6" r="1.95" fill="#ED7D31"/><circle cx="172.97" cy="282.3" r="1.95" fill="#ED7D31"/><circle cx="176.2" cy="271" r="1.95" fill="#ED7D31"/><circle cx="179.43" cy="294.6" r="1.95" fill="#ED7D31"/><circle cx="182.66" cy="274.7" r="1.95" fill="#ED7D31"/><circle cx="185.89" cy="274" r="1.95" fill="#ED7D31"/><circle cx="189.12" cy="240.7" r="1.95" fill="#ED7D31"/><circle cx="192.35" cy="264.3" r="1.95" fill="#ED7D31"/><circle cx="195.58" cy="257.1" r="1.95" fill="#ED7D31"/><circle cx="198.81" cy="262" r="1.95" fill="#ED7D31"/><circle cx="202.04" cy="246.1" r="1.95" fill="#ED7D31"/><circle cx="205.27" cy="241.2" r="1.95" fill="#ED7D31"/>
<polyline fill="none" stroke="#4472C4" stroke-width="1.35" stroke-linejoin="round" points="95.45,293.3 98.68,297.3 101.91,295.4 105.14,299.5 108.37,302.3 111.6,309.1 114.83,314.4 118.06,314.6 121.29,316 124.52,318.9 127.75,322.6 130.98,322.2 134.21,326.1 137.44,329.3 140.67,329 143.9,324.9 147.13,329.4 150.36,332.7 153.59,344.1 156.82,349.1 160.05,355 163.28,360.9 166.51,364.5 169.74,356.7 172.97,355.7 176.2,351.5 179.43,354.3 182.66,351.1 185.89,348 189.12,334.7 192.35,328.4 195.58,320 198.81,313.1 202.04,301.6 205.27,288.7"/>
<circle cx="95.45" cy="293.3" r="1.95" fill="#4472C4"/><circle cx="98.68" cy="297.3" r="1.95" fill="#4472C4"/><circle cx="101.91" cy="295.4" r="1.95" fill="#4472C4"/><circle cx="105.14" cy="299.5" r="1.95" fill="#4472C4"/><circle cx="108.37" cy="302.3" r="1.95" fill="#4472C4"/><circle cx="111.6" cy="309.1" r="1.95" fill="#4472C4"/><circle cx="114.83" cy="314.4" r="1.95" fill="#4472C4"/><circle cx="118.06" cy="314.6" r="1.95" fill="#4472C4"/><circle cx="121.29" cy="316" r="1.95" fill="#4472C4"/><circle cx="124.52" cy="318.9" r="1.95" fill="#4472C4"/><circle cx="127.75" cy="322.6" r="1.95" fill="#4472C4"/><circle cx="130.98" cy="322.2" r="1.95" fill="#4472C4"/><circle cx="134.21" cy="326.1" r="1.95" fill="#4472C4"/><circle cx="137.44" cy="329.3" r="1.95" fill="#4472C4"/><circle cx="140.67" cy="329" r="1.95" fill="#4472C4"/><circle cx="143.9" cy="324.9" r="1.95" fill="#4472C4"/><circle cx="147.13" cy="329.4" r="1.95" fill="#4472C4"/><circle cx="150.36" cy="332.7" r="1.95" fill="#4472C4"/><circle cx="153.59" cy="344.1" r="1.95" fill="#4472C4"/><circle cx="156.82" cy="349.1" r="1.95" fill="#4472C4"/><circle cx="160.05" cy="355" r="1.95" fill="#4472C4"/><circle cx="163.28" cy="360.9" r="1.95" fill="#4472C4"/><circle cx="166.51" cy="364.5" r="1.95" fill="#4472C4"/><circle cx="169.74" cy="356.7" r="1.95" fill="#4472C4"/><circle cx="172.97" cy="355.7" r="1.95" fill="#4472C4"/><circle cx="176.2" cy="351.5" r="1.95" fill="#4472C4"/><circle cx="179.43" cy="354.3" r="1.95" fill="#4472C4"/><circle cx="182.66" cy="351.1" r="1.95" fill="#4472C4"/><circle cx="185.89" cy="348" r="1.95" fill="#4472C4"/><circle cx="189.12" cy="334.7" r="1.95" fill="#4472C4"/><circle cx="192.35" cy="328.4" r="1.95" fill="#4472C4"/><circle cx="195.58" cy="320" r="1.95" fill="#4472C4"/><circle cx="198.81" cy="313.1" r="1.95" fill="#4472C4"/><circle cx="202.04" cy="301.6" r="1.95" fill="#4472C4"/><circle cx="205.27" cy="288.7" r="1.95" fill="#4472C4"/>
<polygon fill="#EFEFEF" stroke="#2a2a2a" stroke-width="1.05" stroke-linejoin="miter" points="99.99,316.91 140.63,342.38 139.46,344.24 145.2,343 143.82,337.3 142.65,339.16 102.01,313.69"/>
<polygon fill="#EFEFEF" stroke="#2a2a2a" stroke-width="1.05" stroke-linejoin="miter" points="177.75,344.94 196.32,301.01 198.34,301.86 196.2,296.4 190.79,298.67 192.81,299.53 174.25,343.46"/>
<rect x="148.9" y="50.9" width="2.2" height="10.5" fill="#FF0000"/>
<polygon points="146.6,60.5 153.4,60.5 150,67.3" fill="#FF0000"/>
</svg></body></html>
